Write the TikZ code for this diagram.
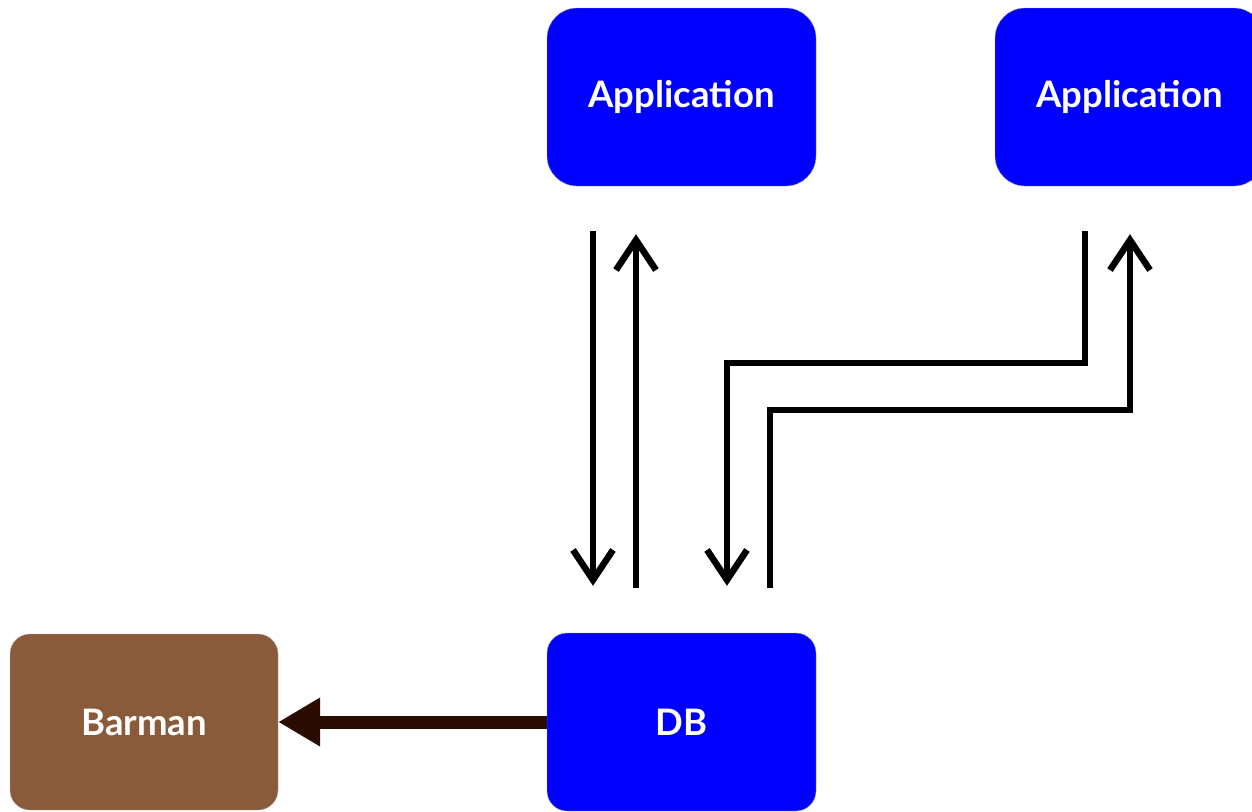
\documentclass[tikz,border=0pt]{standalone}
\usepackage{fontspec}
\setmainfont{Lato}
\usetikzlibrary{arrows.meta, positioning}

\definecolor{appblue}{HTML}{0000FF}
\definecolor{barbrown}{HTML}{8A5B3B}
\definecolor{feedbrown}{HTML}{2A0C02}

\begin{document}
\begin{tikzpicture}[x=1pt, y=-1pt,
  box/.style={draw=gray!70, thin, text=white, inner sep=0pt,
    font=\fontsize{36.5}{40}\selectfont\bfseries,
    minimum width=269pt, minimum height=178pt},
  appbox/.style={box, fill=appblue, rounded corners=30pt},
  dbbox/.style={box, fill=appblue, rounded corners=20pt},
  barbox/.style={box, fill=barbrown, rounded corners=20pt,
    minimum width=268pt, minimum height=176pt},
  flow/.style={line width=6.5pt, -{Straight Barb[length=30pt, width=40pt]}},
  feed/.style={feedbrown, line width=13pt, -{Triangle[length=42pt, width=46pt]}}]
  \useasboundingbox (0,0) rectangle (1252,811);

  % Boxes
  \node[appbox] (app1) at (681.5,97) {Application};
  \node[appbox] (app2) at (1129.5,97) {Application};
  \node[dbbox]  (db)   at (681.5,722) {DB};
  \node[barbox] (barman) at (144,722) {Barman};

  % First application <-> DB
  \draw[flow, shorten <=45pt, shorten >=47pt]
       ([xshift=-88.5pt]app1.south) -- ([xshift=-88.5pt]db.north);
  \draw[flow, shorten <=45pt, shorten >=48pt]
       ([xshift=-45.5pt]db.north) -- ([xshift=-45.5pt]app1.south);

  % Second application <-> DB
  \draw[flow]
       ([xshift=-44.5pt, yshift=-45pt]app2.south) -- ++(0,132)
       -| ([xshift=45.5pt, yshift=47pt]db.north);
  \draw[flow]
       ([xshift=88.5pt, yshift=45pt]db.north) -- ++(0,-178)
       -| ([xshift=0.5pt, yshift=-48pt]app2.south);

  % DB -> Barman
  \draw[feed] (db.west) -- (barman.east);
\end{tikzpicture}
\end{document}
